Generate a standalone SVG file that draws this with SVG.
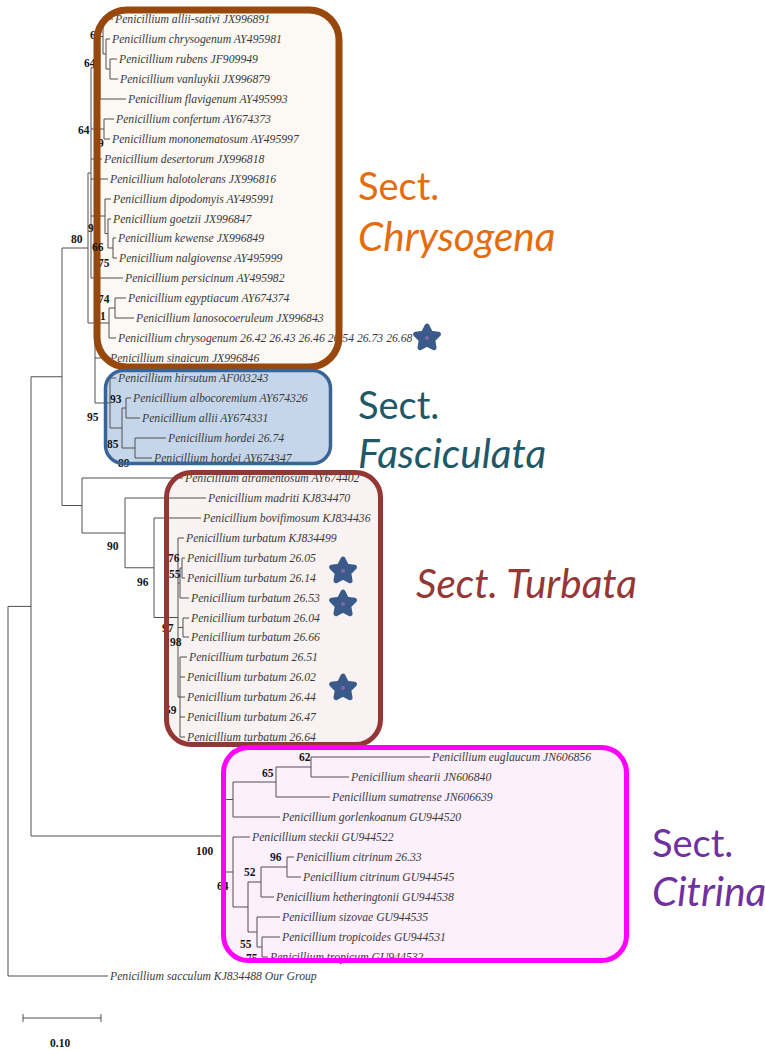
<svg xmlns="http://www.w3.org/2000/svg" width="765" height="1050" viewBox="0 0 765 1050">
<defs>
<style>
.t{font-family:"Liberation Serif",serif;font-style:italic;font-size:11.7px;fill:#3a3a3a}
.b{font-family:"Liberation Serif",serif;font-weight:bold;font-size:11.5px;fill:#151515}
.e{stroke:#505050;stroke-width:1;fill:none}
.s{font-family:Lato,"Open Sans",sans-serif;font-size:38px}
.i{font-style:italic;font-size:40.5px}
</style>
<g id="star"><polygon points="0,-12 3.53,-4.85 11.41,-3.71 5.71,1.85 7.05,9.71 0,6 -7.05,9.71 -5.71,1.85 -11.41,-3.71 -3.53,-4.85" fill="#3a5a8c" stroke="#3a5a8c" stroke-width="5" stroke-linejoin="round"/><circle r="2" fill="#8a62a8"/></g>
</defs>
<rect width="765" height="1050" fill="#ffffff"/>
<g id="box-fills">
<rect x="97" y="10" width="242" height="357" rx="30" fill="#fcf8f4"/>
<rect x="105.5" y="370.5" width="225" height="93" rx="18" fill="#c6d6ea"/>
<rect x="166.5" y="472.5" width="214" height="272" rx="25" fill="#f8f2f2"/>
<rect x="223.5" y="747.5" width="403" height="213" rx="25" fill="#fcf0fc"/>
</g>
<g id="connectors" class="e">
<path d="M110 59V79M110 59H117M110 79H118 M106 39V69M106 39H110M106 69H110 M103 19V54M103 19H113M103 54H106 M100 36.5V99M100 36.5H103M100 99H126 M104 119V139M104 119H114M104 139H110 M113 238V258M113 238H116M113 258H117 M108 219V248M108 219H111M108 248H113 M105 199V233.5M105 199H111M105 233.5H108 M91 67.75V278M91 67.75H100M91 129H104M91 159H102M91 179H108M91 216H105M91 278H123 M115 298V318M115 298H126M115 318H134 M109 308V338M109 308H115M109 338H116 M88 173V323M88 173H91M88 323H95 M95 323V403M95 323H109M95 358H108M95 403H110"/>
<path d="M135 438V458M135 438H166M135 458H152 M126 398V418M126 398H131M126 418H140 M122 408V448M122 408H126M122 448H135 M110 378V428M110 378H116M110 428H122"/>
<path d="M62 248V505.5M62 248H88M62 505.5H82 M82 478V533M82 478H183M82 533H125 M125 498V567.75M125 498H206M125 567.75H154 M154 518V617.5M154 518H201M154 617.5H178 M178 538V697M178 538H184M178 583H180M178 627.5H183M178 697H180 M182 558V578M182 558H185M182 578H185 M180 568V598M180 568H182M180 598H189 M183 618V637M183 618H189M183 637H189 M180 657V737M180 657H187M180 677H185M180 697H185M180 717H185M180 737H185"/>
<path d="M31 376.75V836M31 376.75H62M31 836H225 M8 606.4V976M8 606.4H31M8 976H108"/>
<path d="M311 757V777M311 757H430M311 777H349 M276 767V797M276 767H311M276 797H330 M233 782V817M233 782H276M233 817H280 M287 857V877M287 857H294M287 877H301 M261 867V897M261 867H287M261 897H274 M262 937V957M262 937H280M262 957H268 M257 917V947M257 917H280M257 947H262 M248 882V932M248 882H261M248 932H257 M233 837V907M233 837H250M233 907H248 M225 799.5V872M225 799.5H233M225 872H233"/>
</g>
<g id="leaves" class="t">
<g id="n1"><text x="115" y="23">Penicillium allii-sativi JX996891</text></g>
<g id="n2"><text x="112" y="43">Penicillium chrysogenum AY495981</text></g>
<g id="n3"><text x="119" y="63">Penicillium rubens JF909949</text></g>
<g id="n4"><text x="120" y="83">Penicillium vanluykii JX996879</text></g>
<g id="n5"><text x="128" y="103">Penicillium flavigenum AY495993</text></g>
<g id="n6"><text x="116" y="123">Penicillium confertum AY674373</text></g>
<g id="n7"><text x="112" y="143">Penicillium mononematosum AY495997</text></g>
<g id="n8"><text x="104" y="163">Penicillium desertorum JX996818</text></g>
<g id="n9"><text x="110" y="183">Penicillium halotolerans JX996816</text></g>
<g id="n10"><text x="113" y="203">Penicillium dipodomyis AY495991</text></g>
<g id="n11"><text x="113" y="223">Penicillium goetzii JX996847</text></g>
<g id="n12"><text x="118" y="242">Penicillium kewense JX996849</text></g>
<g id="n13"><text x="119" y="262">Penicillium nalgiovense AY495999</text></g>
<g id="n14"><text x="125" y="282">Penicillium persicinum AY495982</text></g>
<g id="n15"><text x="128" y="302">Penicillium egyptiacum AY674374</text></g>
<g id="n16"><text x="136" y="322">Penicillium lanosocoeruleum JX996843</text></g>
<g id="n17"><text x="118" y="342">Penicillium chrysogenum 26.42 26.43 26.46 26.54 26.73 26.68</text></g>
<g id="n18"><text x="110" y="362">Penicillium sinaicum JX996846</text></g>
<g id="n19"><text x="118" y="382">Penicillium hirsutum AF003243</text></g>
<g id="n20"><text x="133" y="402">Penicillium albocoremium AY674326</text></g>
<g id="n21"><text x="142" y="422">Penicillium allii AY674331</text></g>
<g id="n22"><text x="168" y="442">Penicillium hordei 26.74</text></g>
<g id="n23"><text x="154" y="462">Penicillium hordei AY674347</text></g>
<g id="n24"><text x="185" y="482">Penicillium atramentosum AY674402</text></g>
<g id="n25"><text x="208" y="502">Penicillium madriti KJ834470</text></g>
<g id="n26"><text x="203" y="522">Penicillium bovifimosum KJ834436</text></g>
<g id="n27"><text x="186" y="542">Penicillium turbatum KJ834499</text></g>
<g id="n28"><text x="187" y="562">Penicillium turbatum 26.05</text></g>
<g id="n29"><text x="187" y="582">Penicillium turbatum 26.14</text></g>
<g id="n30"><text x="191" y="602">Penicillium turbatum 26.53</text></g>
<g id="n31"><text x="191" y="622">Penicillium turbatum 26.04</text></g>
<g id="n32"><text x="191" y="641">Penicillium turbatum 26.66</text></g>
<g id="n33"><text x="189" y="661">Penicillium turbatum 26.51</text></g>
<g id="n34"><text x="187" y="681">Penicillium turbatum 26.02</text></g>
<g id="n35"><text x="187" y="701">Penicillium turbatum 26.44</text></g>
<g id="n36"><text x="187" y="721">Penicillium turbatum 26.47</text></g>
<g id="n37"><text x="187" y="741">Penicillium turbatum 26.64</text></g>
<g id="n38"><text x="432" y="761">Penicillium euglaucum JN606856</text></g>
<g id="n39"><text x="351" y="781">Penicillium shearii JN606840</text></g>
<g id="n40"><text x="332" y="801">Penicillium sumatrense JN606639</text></g>
<g id="n41"><text x="282" y="821">Penicillium gorlenkoanum GU944520</text></g>
<g id="n42"><text x="252" y="841">Penicillium steckii GU944522</text></g>
<g id="n43"><text x="296" y="861">Penicillium citrinum 26.33</text></g>
<g id="n44"><text x="303" y="881">Penicillium citrinum GU944545</text></g>
<g id="n45"><text x="276" y="901">Penicillium hetheringtonii GU944538</text></g>
<g id="n46"><text x="282" y="921">Penicillium sizovae GU944535</text></g>
<g id="n47"><text x="282" y="941">Penicillium tropicoides GU944531</text></g>
<g id="n48"><text x="270" y="961">Penicillium tropicum GU944532</text></g>
<g id="n49"><text x="110" y="980">Penicillium sacculum KJ834488 Our Group</text></g>
</g>
<g id="bootstrap" class="b">
<text x="90" y="39">6</text>
<text x="84" y="67">64</text>
<text x="78" y="134">64</text>
<text x="98" y="147">9</text>
<text x="88" y="232">9</text>
<text x="71" y="243">80</text>
<text x="98" y="267">75</text>
<text x="98" y="303">74</text>
<text x="100" y="320">1</text>
<text x="110" y="403">93</text>
<text x="87" y="421">95</text>
<text x="107" y="448">85</text>
<text x="118" y="467">89</text>
<text x="107" y="550">90</text>
<text x="137" y="586">96</text>
<text x="168" y="562">76</text>
<text x="169" y="578">55</text>
<text x="162" y="632">97</text>
<text x="170" y="646">98</text>
<text x="165" y="714">59</text>
<text x="299" y="761">62</text>
<text x="262" y="777">65</text>
<text x="196" y="855">100</text>
<text x="270" y="861">96</text>
<text x="244" y="876">52</text>
<text x="217" y="890">64</text>
<text x="240" y="948">55</text>
<text x="246" y="962">75</text>
</g>
<g id="box-borders" fill="none">
<rect id="chrysogena-box" x="97" y="10" width="242" height="357" rx="30" stroke="#98480c" stroke-width="7"/>
<rect id="fasciculata-box" x="105.5" y="370.5" width="225" height="93" rx="18" stroke="#3b6496" stroke-width="3.5"/>
<rect id="turbata-box" x="166.5" y="472.5" width="214" height="272" rx="25" stroke="#943634" stroke-width="5"/>
<rect id="citrina-box" x="223.5" y="747.5" width="403" height="213" rx="25" stroke="#ff00ff" stroke-width="5"/>
</g>
<text class="b" x="92" y="251">66</text>
<g id="sections" class="s">
<g id="sect-chrysogena" fill="#e46c0a"><text x="358" y="200">Sect.</text><text x="358" y="251" class="i">Chrysogena</text></g>
<g id="sect-fasciculata" fill="#215868"><text x="358" y="419">Sect.</text><text x="358" y="468" class="i">Fasciculata</text></g>
<g id="sect-turbata" fill="#953735"><text x="416" y="598" class="i">Sect. Turbata</text></g>
<g id="sect-citrina" fill="#7030a0"><text x="652" y="857">Sect.</text><text x="652" y="906" class="i">Citrina</text></g>
</g>
<g id="stars">
<use href="#star" x="427" y="338"/>
<use href="#star" x="343" y="571"/>
<use href="#star" x="343" y="604"/>
<use href="#star" x="343" y="688"/>
</g>
<g id="scale-bar">
<path class="e" d="M23 1018H101M23 1014V1022M101 1014V1022"/>
<text class="b" x="50" y="1047">0.10</text>
</g>
</svg>
